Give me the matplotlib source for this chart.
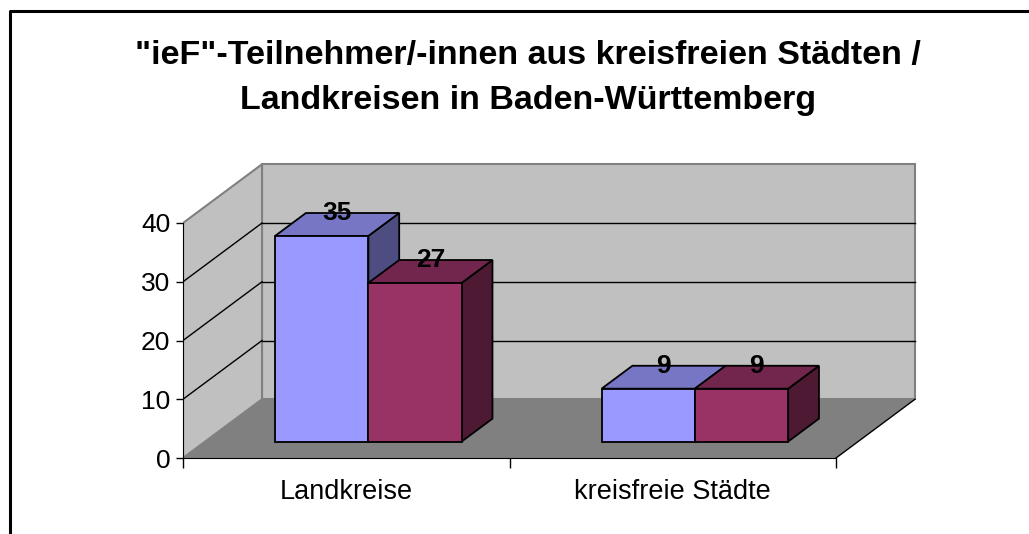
import matplotlib.pyplot as plt
from matplotlib.patches import Polygon
from matplotlib.lines import Line2D

plt.rcParams['font.family'] = ['Liberation Sans', 'DejaVu Sans']

title_lines = ['"ieF"-Teilnehmer/-innen aus kreisfreien Städten /',
               'Landkreisen in Baden-Württemberg']
categories = ['Landkreise', 'kreisfreie Städte']
series_a = [35, 9]
series_b = [27, 9]
yticks = [0, 10, 20, 30, 40]

# face colours: front, top, side
blue = ('#9999FF', '#7676C4', '#4D4D82')
red = ('#993366', '#73264D', '#4D1933')

ymax = 40
dx, dy = 0.242, 10.0      # depth offset of the back wall (data units)
bw = 0.2857               # bar width
f0, fd = 0.28, 0.39       # bar front position / bar depth, as part of dx, dy

fig = plt.figure(figsize=(10.29, 5.34), dpi=100)
ax = fig.add_axes([183 / 1029, 76 / 534, 2.3 * 326.5 / 1029, 52 * 5.875 / 534])
ax.set_xlim(0, 2.3)
ax.set_ylim(0, 52)
ncat = len(categories)

# --- walls and floor
ax.add_patch(Polygon([(0, 0), (ncat, 0), (ncat + dx, dy), (dx, dy)],
                     fc='#808080', ec='none', zorder=1))
ax.add_patch(Polygon([(dx, dy), (ncat + dx, dy), (ncat + dx, ymax + dy),
                      (dx, ymax + dy)], fc='#C0C0C0', ec='#808080', lw=1.5,
                     zorder=1))
ax.add_patch(Polygon([(0, 0), (0, ymax), (dx, ymax + dy), (dx, dy)],
                     fc='#C0C0C0', ec='#808080', lw=1.5, zorder=1))
ax.plot([ncat, ncat + dx], [0, dy], color='black', lw=1, zorder=2)

# --- gridlines on back and side wall
for v in yticks[1:-1]:
    ax.plot([dx, ncat + dx], [v + dy, v + dy], color='black', lw=1, zorder=2)
    ax.plot([0, dx], [v, v + dy], color='black', lw=1, zorder=2)


def draw_bar(x0, h, cols):
    x1 = x0 + bw
    ox, oy = f0 * dx, f0 * dy
    px, py = fd * dx, fd * dy
    side = [(x1 + ox, oy), (x1 + ox + px, oy + py),
            (x1 + ox + px, h + oy + py), (x1 + ox, h + oy)]
    top = [(x0 + ox, h + oy), (x1 + ox, h + oy),
           (x1 + ox + px, h + oy + py), (x0 + ox + px, h + oy + py)]
    front = [(x0 + ox, oy), (x1 + ox, oy), (x1 + ox, h + oy), (x0 + ox, h + oy)]
    for pts, c in zip([side, top, front], [cols[2], cols[1], cols[0]]):
        ax.add_patch(Polygon(pts, fc=c, ec='black', lw=1.3, zorder=3))
    ax.text(x0 + ox + bw / 2 + px / 2, h + oy + py, str(h), ha='center',
            va='center', fontsize=19, fontweight='bold', zorder=5)


for i in range(ncat):
    draw_bar(i + 0.5 - bw, series_a[i], blue)
    draw_bar(i + 0.5, series_b[i], red)

# --- axes
for s in ['top', 'right']:
    ax.spines[s].set_visible(False)
ax.spines['left'].set_bounds(0, ymax)
ax.spines['bottom'].set_bounds(0, ncat)
ax.spines['left'].set_zorder(4)
ax.spines['bottom'].set_zorder(4)
ax.set_yticks(yticks)
ax.set_yticklabels([str(t) for t in yticks])
ax.set_xticks(range(ncat + 1))
ax.set_xticklabels([''] * (ncat + 1))
ax.set_xticks([i + 0.5 for i in range(ncat)], minor=True)
ax.set_xticklabels(categories, minor=True)
ax.tick_params(axis='y', length=5, width=1, pad=4, labelsize=19)
ax.tick_params(axis='x', which='major', length=7, width=1)
ax.tick_params(axis='x', which='minor', length=0, pad=15, labelsize=19.5)
ax.patch.set_alpha(0)

# --- title
fig.text(528 / 1029, 1 - 64 / 534, title_lines[0], ha='center', va='baseline',
         fontsize=24.5, fontweight='bold')
fig.text(528 / 1029, 1 - 109 / 534, title_lines[1], ha='center', va='baseline',
         fontsize=24.5, fontweight='bold')

# --- chart area border (left and top visible)
fig.add_artist(Line2D([10 / 1029, 10 / 1029, 1], [0, 1 - 11 / 534, 1 - 11 / 534],
                      transform=fig.transFigure, color='black', lw=2.2))

fig.savefig('out.png', dpi=100)
